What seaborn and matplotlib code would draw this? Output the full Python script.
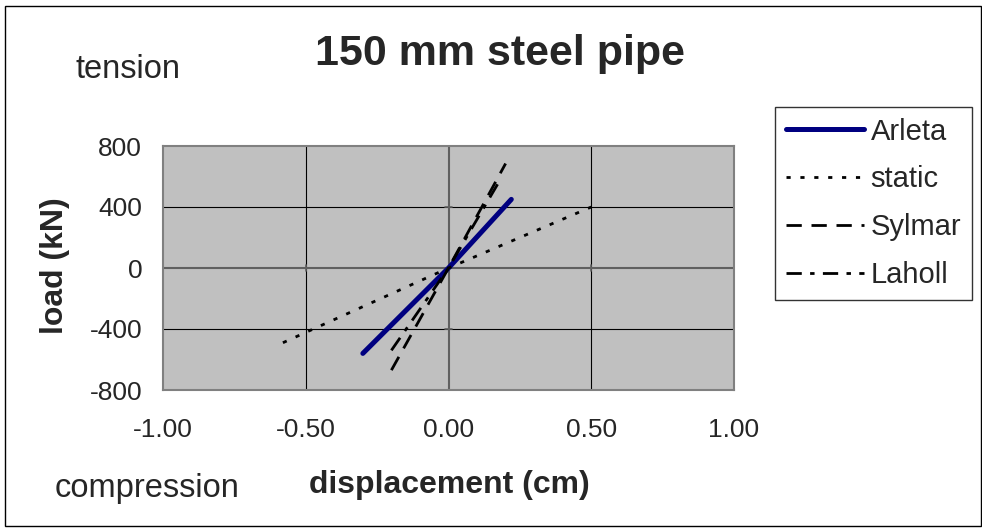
import matplotlib
matplotlib.use("Agg")
import matplotlib.pyplot as plt
from matplotlib.patches import Rectangle
import seaborn as sns
import pandas as pd

# Load-displacement end points for each record (cm, kN)
arleta_x = [-0.30, 0.0, 0.22]
arleta_y = [-560, 0, 450]
static_x = [-0.58, 0.0, 0.50]
static_y = [-490, 0, 400]
sylmar_x = [-0.20, 0.0, 0.20]
sylmar_y = [-670, 0, 685]
laholl_x = [-0.20, 0.0, 0.18]
laholl_y = [-540, 0, 575]

series_names = ["Arleta", "static", "Sylmar", "Laholl"]
x_ticks = [-1.00, -0.50, 0.00, 0.50, 1.00]
x_tick_labels = ["-1.00", "-0.50", "0.00", "0.50", "1.00"]
y_ticks = [-800, -400, 0, 400, 800]
y_tick_labels = ["-800", "-400", "0", "400", "800"]

sns.set_theme(style="white")
plt.rcParams["font.family"] = ["Liberation Sans", "DejaVu Sans"]

fig = plt.figure(figsize=(9.82, 5.31), dpi=100)
ax = fig.add_axes([163 / 982, 1 - 390 / 531, (734 - 163) / 982, (390 - 146) / 531])
ax.set_facecolor("#c0c0c0")

styles = {
    "Arleta": dict(color="#000080", linewidth=3.6, linestyle="-"),
    "static": dict(color="black", linewidth=2.0, dashes=(1.5, 3.5)),
    "Sylmar": dict(color="black", linewidth=2.0, dashes=(5.5, 3.5)),
    "Laholl": dict(color="black", linewidth=2.0, dashes=(5.5, 3, 1.6, 3)),
}
data = {
    "Arleta": (arleta_x, arleta_y),
    "static": (static_x, static_y),
    "Sylmar": (sylmar_x, sylmar_y),
    "Laholl": (laholl_x, laholl_y),
}

lines = []
for name in series_names:
    xs, ys = data[name]
    df = pd.DataFrame({"x": xs, "y": ys})
    st = dict(styles[name])
    dashes = st.pop("dashes", None)
    sns.lineplot(data=df, x="x", y="y", ax=ax, sort=False, estimator=None,
                 label=name, zorder=3, solid_capstyle="round", **st)
    line = ax.get_lines()[-1]
    if dashes is not None:
        line.set_dashes(dashes)
    lines.append(line)

ax.set_xlim(-1.0, 1.0)
ax.set_ylim(-800, 800)

# grid lines
for gx in [-0.5, 0.5]:
    ax.axvline(gx, color="black", linewidth=0.8, zorder=1)
for gy in [-400, 400]:
    ax.axhline(gy, color="black", linewidth=0.8, zorder=1)
# axes crossing at zero
ax.axvline(0, color="#606060", linewidth=1.5, zorder=2)
ax.axhline(0, color="#606060", linewidth=1.5, zorder=2)
for gy in y_ticks:
    ax.plot([-0.012, 0.012], [gy, gy], color="#606060", linewidth=1.2, zorder=2)
for gx in x_ticks:
    ax.plot([gx, gx], [-18, 18], color="#606060", linewidth=1.2, zorder=2)

for s in ax.spines.values():
    s.set_color("#808080")
    s.set_linewidth(1.5)

ax.set_xticks(x_ticks)
ax.set_xticklabels(x_tick_labels, fontsize=19)
ax.set_yticks(y_ticks)
ax.set_yticklabels(y_tick_labels, fontsize=19)
ax.tick_params(axis="x", length=0, pad=20)
ax.tick_params(axis="y", length=0, pad=15)
ax.set_xlabel("")
ax.set_ylabel("")

ax.get_legend().remove()
leg = fig.legend(handles=lines, labels=series_names,
                 loc="upper left", bbox_to_anchor=(775 / 982, 1 - 107 / 531),
                 frameon=True, fancybox=False, fontsize=21,
                 handlelength=2.7, handletextpad=0.22, labelspacing=0.68,
                 borderpad=0.36, borderaxespad=0)
leg.get_frame().set_edgecolor("black")
leg.get_frame().set_linewidth(1.0)

fig.text(500 / 982, 1 - 54 / 531, "150 mm steel pipe", ha="center", va="center",
         fontsize=31, fontweight="bold")
fig.text(128 / 982, 1 - 69 / 531, "tension", ha="center", va="center", fontsize=23.5)
fig.text(147 / 982, 1 - 488 / 531, "compression", ha="center", va="center", fontsize=23.5)
fig.text(449 / 982, 1 - 485 / 531, "displacement (cm)", ha="center", va="center",
         fontsize=23, fontweight="bold")
fig.text(55 / 982, 1 - 266 / 531, "load (kN)", ha="center", va="center",
         rotation=90, fontsize=23, fontweight="bold")

fig.patches.append(Rectangle((5 / 982, 5 / 531), 976 / 982, 520 / 531,
                             transform=fig.transFigure, fill=False,
                             edgecolor="black", linewidth=1.0))

fig.savefig("out.png", dpi=100)
